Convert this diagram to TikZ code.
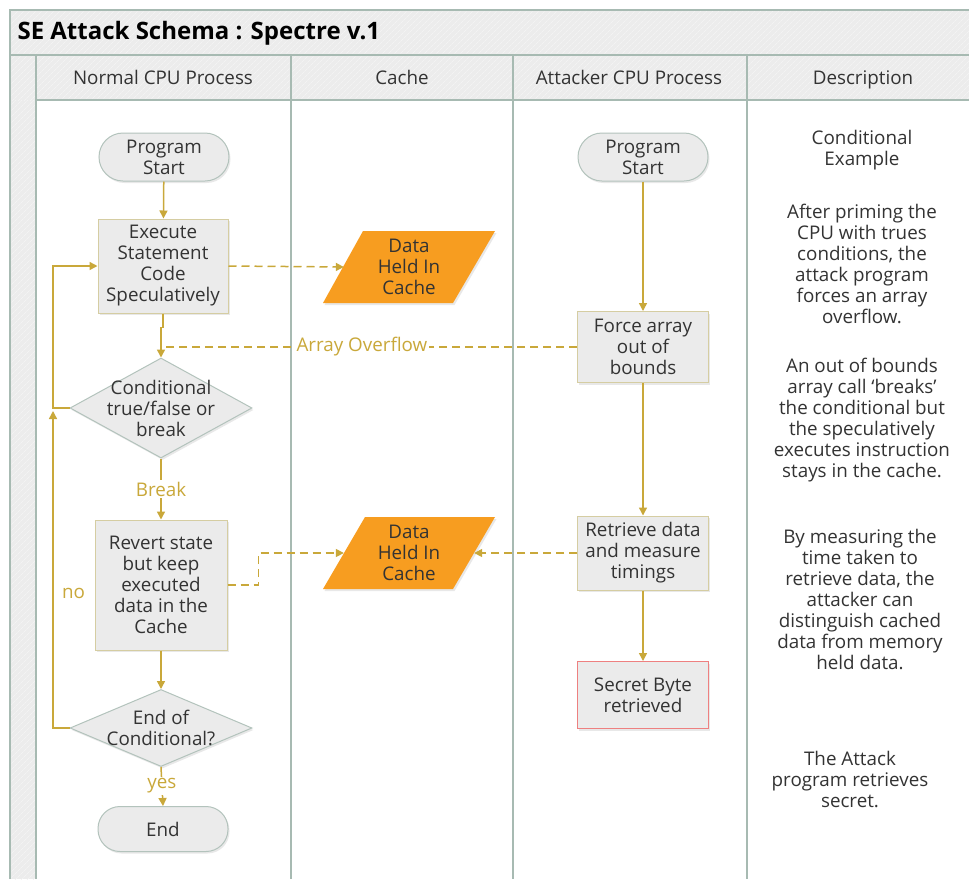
\documentclass[tikz,border=0pt]{standalone}
\usepackage{fontspec}
\setmainfont{Open Sans}
\usetikzlibrary{arrows.meta,shapes.geometric,shadows,patterns.meta}

\definecolor{laneline}{HTML}{A7BAB2}
\definecolor{hdrfill}{HTML}{ECECEC}
\definecolor{hatch}{HTML}{F3F3F3}
\definecolor{flowgold}{HTML}{C9A83A}
\definecolor{boxfill}{HTML}{EBEBEB}
\definecolor{boxline}{HTML}{D5CDA2}
\definecolor{termline}{HTML}{B3C3BC}
\definecolor{cachefill}{HTML}{F79D20}
\definecolor{ink}{HTML}{333333}
\definecolor{alertline}{HTML}{EE8080}

\newcommand\flowfont{\fontsize{18.8}{21}\selectfont}

\tikzset{
  lanestroke/.style={draw=laneline, line width=1.5pt},
  hatched/.style={pattern={Lines[angle=45,distance=4pt,line width=0.7pt]}, pattern color=hatch},
  shade box/.style={drop shadow={opacity=0.18, shadow xshift=1.5pt, shadow yshift=-2pt}},
  procbox/.style={rectangle, fill=boxfill, draw=boxline, line width=1pt, shade box,
    align=center, text=ink, font=\flowfont, inner sep=1pt},
  termbox/.style={rectangle, rounded corners=24pt, fill=boxfill, draw=termline, line width=1pt,
    shade box, align=center, text=ink, font=\flowfont, minimum width=130pt, minimum height=48pt, inner sep=1pt},
  decbox/.style={diamond, fill=boxfill, draw=termline, line width=1pt, shade box,
    minimum width=182pt, minimum height=100pt, inner sep=0pt},
  dectext/.style={align=center, text=ink, font=\flowfont},
  cachetext/.style={align=center, text=ink, font=\flowfont, minimum width=130pt, minimum height=72pt, inner sep=0pt},
  desc/.style={align=center, text=ink, font=\flowfont},
  header/.style={text=ink, font=\flowfont, anchor=base},
  flow/.style={draw=flowgold, line width=1.5pt, -{Triangle[length=8pt,width=8pt]}},
  flowline/.style={draw=flowgold, line width=1.5pt},
  flowdash/.style={flow, dash pattern=on 8pt off 5pt},
  flowlabel/.style={text=flowgold, font=\flowfont, fill=white, inner sep=1.5pt},
}

\begin{document}
\begin{tikzpicture}[x=1pt,y=-1pt]
\useasboundingbox (0,0) rectangle (969,879);
\fill[white] (0,0) rectangle (969,879);

% swimlane frame
\fill[hdrfill] (10,10) rectangle (969,55);
\fill[hdrfill] (36,55) rectangle (969,100);
\fill[hdrfill] (10,55) rectangle (36,879);
\fill[hatched] (10,10) rectangle (969,100);
\fill[hatched] (10,100) rectangle (36,879);
\draw[lanestroke] (10,879) -- (10,10) -- (969,10);
\draw[lanestroke] (10,55) -- (969,55);
\draw[lanestroke] (36,100) -- (969,100);
\foreach \lx in {36,291,513,747} \draw[lanestroke] (\lx,55) -- (\lx,879);

\node[anchor=west, text=black, font=\bfseries\fontsize{24}{28}\selectfont] (title) at (14,33) {SE Attack Schema : Spectre v.1};
\node[header] (h1) at (163,84) {Normal CPU Process};
\node[header] (h2) at (402,84) {Cache};
\node[header] (h3) at (629,84) {Attacker CPU Process};
\node[header] (h4) at (863,84) {Description};

% normal CPU process
\node[termbox] (ps1) at (164,157) {Program\\Start};
\node[procbox, minimum width=130pt, minimum height=94pt] (exec) at (163,266) {Execute\\Statement\\Code\\Speculatively};
\node[decbox] (cond) at (161,408) {};
\node[dectext] at (cond) {Conditional\\true/false or\\break};
\node[procbox, minimum width=132pt, minimum height=130pt] (rev) at (161,585) {Revert state\\but keep\\executed\\data in the\\Cache};
\node[decbox, minimum height=77pt] (endc) at (161,728) {};
\node[dectext] at (endc) {End of\\Conditional?};
\node[termbox, minimum height=45pt, rounded corners=22pt] (endt) at (163,829) {End};
\coordinate (lx) at (53,408);
\coordinate (lxup) at (53,411);

% cache
\fill[cachefill, shade box] (323,303) -- (453,303) -- (495,231) -- (363,231) -- cycle;
\node[cachetext] (c1) at (409,267) {Data\\Held In\\Cache};
\fill[cachefill, shade box] (323,589) -- (453,589) -- (495,517) -- (365,517) -- cycle;
\node[cachetext] (c2) at (409,553) {Data\\Held In\\Cache};

% attacker CPU process
\node[termbox] (ps2) at (643,157) {Program\\Start};
\node[procbox, minimum width=131pt, minimum height=71pt] (force) at (643,347) {Force array\\out of\\bounds};
\node[procbox, minimum width=131pt, minimum height=74pt] (retr) at (643,553) {Retrieve data\\and measure\\timings};
\node[procbox, draw=alertline, minimum width=131pt, minimum height=67pt] (secret) at (643,695) {Secret Byte\\retrieved};

% description
\node[desc] (d1) at (862,150) {Conditional\\Example};
\node[desc] (d2) at (862,264) {After priming the\\CPU with trues\\conditions, the\\attack program\\forces an array\\overflow.};
\node[desc] (d3) at (862,420) {An out of bounds\\array call ‘breaks’\\the conditional but\\the speculatively\\executes instruction\\stays in the cache.};
\node[desc] (d4) at (860,599) {By measuring the\\time taken to\\retrieve data, the\\attacker can\\distinguish cached\\data from memory\\held data.};
\node[desc] (d5) at (850,779) {The Attack\\program retrieves\\secret.};

% connectors
\draw[flow] (ps1) -- (exec);
\draw[flow] (exec.south) -- ++(0,14) -| (cond.north);
\draw[flowline, dash pattern=on 8pt off 5pt] (force.west) -- node[flowlabel, pos=0.517] {Array Overflow} (force.west -| cond.north);
\draw[flow] (cond.south) -- node[flowlabel, pos=0.5] {Break} (rev.north);
\draw[flow] (rev.south) -- (endc.north);
\draw[flow] (endc.south) -- node[flowlabel, pos=0.48] {yes} (endt.north);
\draw[flow] (cond.west) -- (lx) |- (exec.west);
\draw[flow] (endc.west) -- (endc.west -| lx) -- node[text=flowgold, font=\flowfont, right=5pt, pos=0.426] {no} (lxup);
\draw[flowdash] (exec.east) -- (c1.west);
\draw[flowdash] (rev.east) -- ++(31,0) |- (c2.west);
\draw[flowdash] (retr.west) -- (c2.east);
\draw[flow] (ps2) -- (force);
\draw[flow] (force) -- (retr);
\draw[flow] (retr) -- (secret);
\end{tikzpicture}
\end{document}
